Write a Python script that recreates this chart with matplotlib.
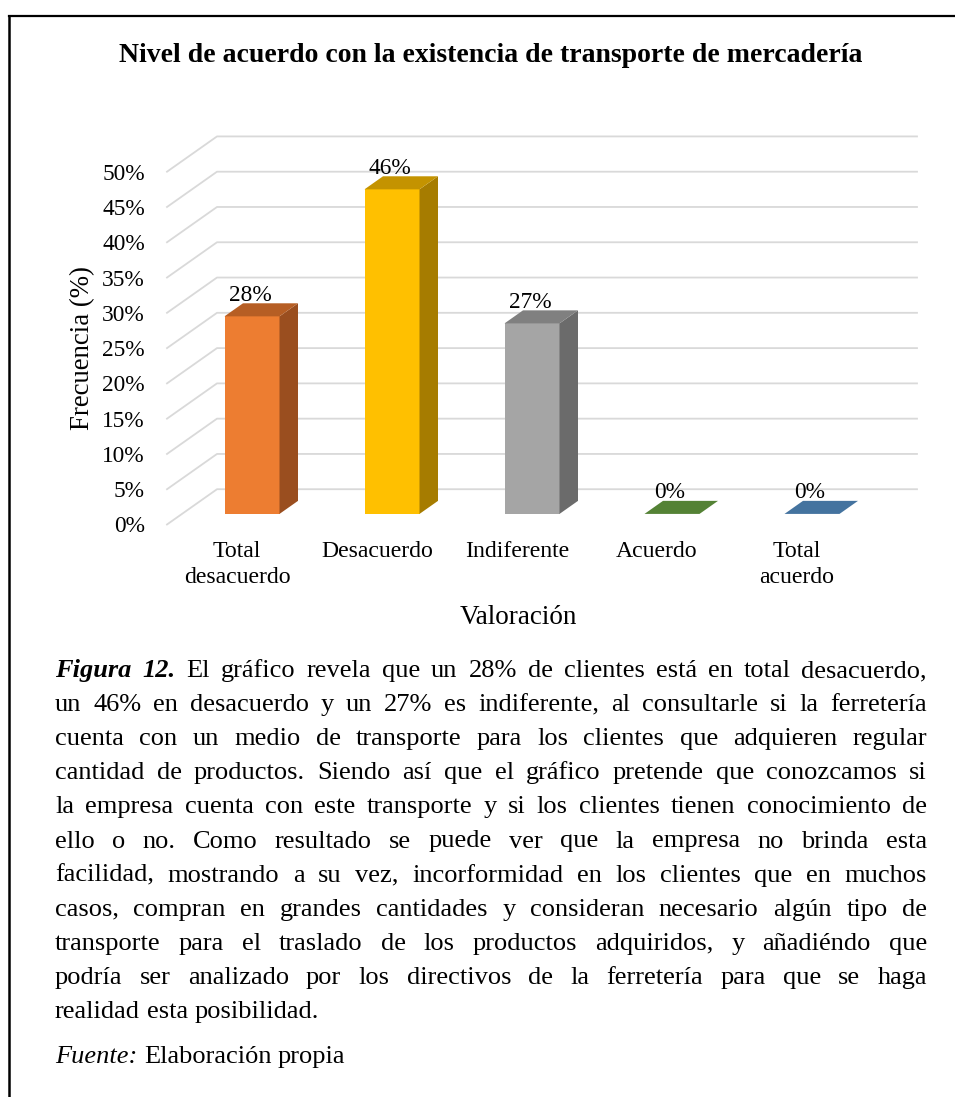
import matplotlib
matplotlib.use('Agg')
import matplotlib.pyplot as plt
from matplotlib.patches import Polygon

plt.rcParams['font.family'] = ['Liberation Serif', 'DejaVu Serif']

# Data
categorias = ['Total\ndesacuerdo', 'Desacuerdo', 'Indiferente', 'Acuerdo', 'Total\nacuerdo']
valores = [28, 46, 27, 0, 0]
etiquetas = ['28%', '46%', '27%', '0%', '0%']
ticks = list(range(0, 55, 5))
frente = ['#ED7D31', '#FFC000', '#A5A5A5', '#70AD47', '#5B9BD5']
lado = ['#9A4E1F', '#A67C00', '#6B6B6B', '#4E7A30', '#3F6E9A']
tapa = ['#B65E24', '#C49300', '#808080', '#548235', '#44739F']

titulo = 'Nivel de acuerdo con la existencia de transporte de mercadería'
parrafo = [
    [('Figura 12.', 'bi'), ('El gráfico revela que un 28% de clientes está en total desacuerdo,', 'n')],
    [('un 46% en desacuerdo y un 27% es indiferente, al consultarle si la ferretería', 'n')],
    [('cuenta con un medio de transporte para los clientes que adquieren regular', 'n')],
    [('cantidad de productos. Siendo así que el gráfico pretende que conozcamos si', 'n')],
    [('la empresa cuenta con este transporte y si los clientes tienen conocimiento de', 'n')],
    [('ello o no. Como resultado se puede ver que la empresa no brinda esta', 'n')],
    [('facilidad, mostrando a su vez, incorformidad en los clientes que en muchos', 'n')],
    [('casos, compran en grandes cantidades y consideran necesario algún tipo de', 'n')],
    [('transporte para el traslado de los productos adquiridos, y añadiéndo que', 'n')],
    [('podría ser analizado por los directivos de la ferretería para que se haga', 'n')],
]
ultima = [('realidad esta posibilidad.', 'n')]
fuente = [('Fuente:', 'i'), ('Elaboración propia', 'n')]

W, H = 955, 1097
fig = plt.figure(figsize=(W / 100, H / 100), dpi=100)

# frame (top and left)
fig.add_artist(plt.Line2D([9 / W, 1], [1 - 15.5 / H, 1 - 15.5 / H], color='black', lw=1.6))
fig.add_artist(plt.Line2D([9 / W, 9 / W], [0, 1 - 15.5 / H], color='black', lw=1.8))

fig.text(491 / W, 1 - 56 / H, titulo, ha='center', va='center', fontsize=20, fontweight='bold')

# pseudo 3D chart
DX = 50 / 140   # depth offset in category units
DY = 5.0        # depth offset in value units
d0, d1 = 0.3, 0.67
w = 55 / 140
pxv = 7.056     # px per percent
y0px = 524.5
ax = fig.add_axes([167 / W, 1 - y0px / H, 756 / W, 56 * pxv / H])
ax.set_xlim(-0.5, 4.9)
ax.set_ylim(0, 56)
for s in ax.spines.values():
    s.set_visible(False)


def proj(x, v, d):
    return (x + d * DX, v + d * DY)


for t in ticks:
    a = proj(-0.5, t, 0)
    b = proj(-0.5, t, 1)
    c = proj(4.5, t, 1)
    ax.plot([a[0], b[0], c[0]], [a[1], b[1], c[1]], color='#D9D9D9', lw=1.3, zorder=1, clip_on=False)

for i, v in enumerate(valores):
    xl, xr = i - w / 2, i + w / 2
    if v > 0:
        ax.add_patch(Polygon([proj(xl, 0, d0), proj(xr, 0, d0), proj(xr, v, d0), proj(xl, v, d0)],
                             closed=True, fc=frente[i], ec='none', zorder=3))
        ax.add_patch(Polygon([proj(xr, 0, d0), proj(xr, 0, d1), proj(xr, v, d1), proj(xr, v, d0)],
                             closed=True, fc=lado[i], ec='none', zorder=3))
    ax.add_patch(Polygon([proj(xl, v, d0), proj(xr, v, d0), proj(xr, v, d1), proj(xl, v, d1)],
                         closed=True, fc=tapa[i], ec='none', zorder=3))
    ax.text(i + d0 * DX - 0.015, v + d1 * DY - 0.35, etiquetas[i], ha='center', va='bottom',
            fontsize=16.8, zorder=4)

ax.set_yticks(ticks, [f'{t}%' for t in ticks])
ax.set_xticks(range(len(categorias)), categorias)
ax.tick_params(axis='y', length=0, pad=15.8, labelsize=16.8)
ax.tick_params(axis='x', length=0, pad=12, labelsize=17.1)
for lab in ax.get_xticklabels():
    lab.set_linespacing(1.3)

ax.text((82.5 - 167) / 756, (y0px - 348) / (56 * pxv), 'Frecuencia (%)', rotation=90,
        ha='center', va='center', fontsize=19.3, transform=ax.transAxes)
ax.text((518 - 167) / 756, (y0px - 618) / (56 * pxv), 'Valoración',
        ha='center', va='center', fontsize=19.5, transform=ax.transAxes)

# justified caption
renderer = fig.canvas.get_renderer()
estilos = {'n': dict(), 'i': dict(style='italic'), 'b': dict(weight='bold'),
           'bi': dict(style='italic', weight='bold')}
cap_size = 19
x_izq, x_der = 55, 927


def ancho(txt, est='n'):
    t = fig.text(0, 0, txt, fontsize=cap_size, **estilos[est])
    a = t.get_window_extent(renderer).width
    t.remove()
    return a


espacio_nat = ancho('a a') - ancho('aa')


def linea(partes, base, justificar=True):
    palabras = []
    for txt, est in partes:
        for p in txt.split(' '):
            palabras.append((p, est))
    objs = []
    anchos = []
    for p, est in palabras:
        t = fig.text(0, 1 - base / H, p, fontsize=cap_size, va='baseline', ha='left', **estilos[est])
        objs.append(t)
        anchos.append(t.get_window_extent(renderer).width)
    espacio = espacio_nat
    if justificar and len(objs) > 1:
        espacio = (x_der - x_izq - sum(anchos)) / (len(objs) - 1)
    x = x_izq
    for t, a in zip(objs, anchos):
        t.set_x(x / W)
        x += a + espacio


for k, partes in enumerate(parrafo):
    linea(partes, 677 + 34.1 * k)
linea(ultima, 677 + 34.1 * 10, justificar=False)
linea(fuente, 1063, justificar=False)

fig.savefig('out.png', dpi=100)
